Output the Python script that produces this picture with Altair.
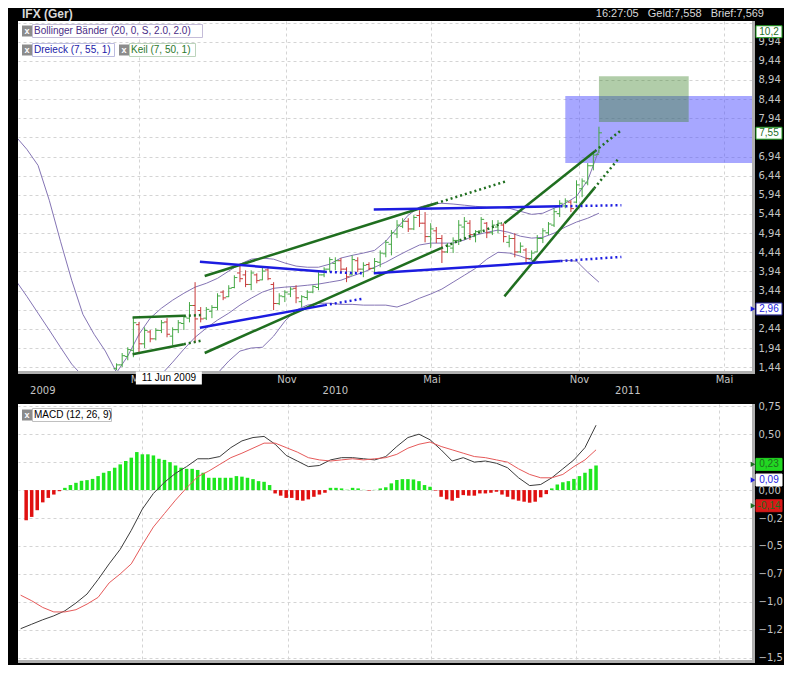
import altair as alt
import pandas as pd

# ------------------------------------------------------------------ data
bar_start = "2009-04-03"  # first weekly bar
bar_high = [1.54, 1.81, 1.96, 2.75, 2.62, 2.48, 2.41, 2.46, 2.67, 2.72,
            2.48, 2.67, 2.80, 3.14, 3.66, 3.01, 3.01, 3.06, 3.37, 3.45,
            3.58, 3.84, 4.10, 3.97, 3.97, 3.89, 4.05, 4.05, 3.66, 3.37,
            3.45, 3.53, 3.58, 3.32, 3.45, 3.58, 3.92, 4.05, 4.31, 4.31,
            4.29, 4.05, 4.36, 4.31, 4.18, 4.18, 4.29, 4.49, 4.76, 5.02,
            5.28, 5.33, 5.33, 5.41, 5.54, 5.49, 5.20, 5.10, 4.89, 4.68,
            4.83, 5.28, 5.36, 5.28, 5.02, 5.36, 5.23, 5.28, 5.28, 5.20,
            4.89, 4.94, 4.70, 4.55, 4.49, 4.89, 5.07, 5.23, 5.59, 5.80,
            5.85, 5.80, 6.32, 6.37, 6.77, 7.05, 7.72]
bar_low = [1.36, 1.44, 1.62, 1.70, 1.83, 1.94, 2.09, 2.14, 2.33, 2.22,
           2.01, 2.33, 2.41, 2.61, 2.07, 2.61, 2.67, 2.72, 2.93, 3.19,
           3.27, 3.50, 3.66, 3.53, 3.45, 3.63, 3.71, 3.71, 2.93, 3.06,
           3.14, 3.27, 3.11, 3.01, 3.19, 3.37, 3.45, 3.79, 3.92, 3.97,
           3.92, 3.66, 3.84, 3.92, 3.79, 3.97, 3.89, 4.05, 4.31, 4.36,
           4.81, 5.07, 4.97, 5.02, 5.10, 4.70, 4.55, 4.68, 4.16, 4.42,
           4.42, 4.63, 4.76, 4.76, 4.70, 4.94, 4.81, 4.89, 4.94, 4.70,
           4.57, 4.31, 4.42, 4.18, 4.23, 4.44, 4.68, 4.89, 5.10, 5.36,
           5.59, 5.49, 5.72, 5.88, 6.19, 6.58, 7.03]
bar_open = [1.40, 1.50, 1.72, 1.88, 2.55, 2.05, 2.36, 2.18, 2.40, 2.62,
            2.25, 2.42, 2.58, 2.72, 3.05, 2.92, 2.72, 2.90, 3.00, 3.40,
            3.28, 3.52, 3.90, 3.85, 3.60, 3.85, 3.72, 3.98, 3.60, 3.10,
            3.28, 3.35, 3.50, 3.15, 3.26, 3.40, 3.52, 3.85, 4.00, 4.15,
            4.22, 4.00, 3.85, 4.22, 4.00, 4.12, 4.02, 4.18, 4.40, 4.65,
            4.92, 5.12, 5.25, 5.05, 5.40, 5.20, 4.85, 5.00, 4.80, 4.45,
            4.55, 4.75, 5.10, 5.20, 4.85, 5.00, 5.20, 4.95, 5.10, 5.15,
            4.70, 4.80, 4.45, 4.50, 4.28, 4.45, 4.80, 4.95, 5.15, 5.45,
            5.65, 5.75, 5.75, 6.10, 6.25, 6.70, 7.00]
bar_close = [1.50, 1.74, 1.90, 2.60, 2.05, 2.40, 2.18, 2.40, 2.60, 2.30,
             2.42, 2.60, 2.75, 3.05, 2.70, 2.70, 2.95, 3.00, 3.30, 3.25,
             3.50, 3.78, 3.75, 3.60, 3.90, 3.70, 3.95, 3.75, 3.10, 3.30,
             3.40, 3.48, 3.25, 3.28, 3.40, 3.55, 3.85, 4.00, 4.25, 4.22,
             4.00, 3.80, 4.25, 4.00, 4.10, 4.02, 4.20, 4.42, 4.70, 4.95,
             5.15, 5.25, 5.05, 5.35, 5.20, 4.85, 5.05, 4.80, 4.45, 4.60,
             4.75, 5.15, 5.25, 4.90, 4.98, 5.30, 4.95, 5.15, 5.20, 4.85,
             4.80, 4.45, 4.60, 4.28, 4.42, 4.80, 5.00, 5.18, 5.50, 5.72,
             5.78, 5.58, 6.20, 6.30, 6.70, 6.98, 7.56]

band_start = "2008-11-28"  # Bollinger + MACD lines, read every second week
bb_upper = [7.47, 7.13, 6.71, 5.80, 4.73, 3.71, 2.82, 2.30, 1.86, 1.30,
            1.73, 2.30, 2.72, 2.98, 3.19, 3.37, 3.53, 3.63, 3.76, 3.95,
            4.13, 4.26, 4.29, 4.26, 4.16, 4.08, 4.05, 4.05, 4.13, 4.29,
            4.36, 4.42, 4.49, 4.73, 5.07, 5.41, 5.62, 5.70, 5.72, 5.70,
            5.67, 5.64, 5.62, 5.62, 5.59, 5.51, 5.43, 5.46, 5.59, 5.72,
            5.90, 6.32, 7.11]
bb_middle = [3.71, 3.29, 2.85, 2.41, 1.96, 1.52, 1.20, 1.05, 0.95, 0.92,
             0.95, 1.02, 1.12, 1.25, 1.57, 1.91, 2.22, 2.46, 2.67, 2.85,
             3.06, 3.24, 3.40, 3.50, 3.53, 3.55, 3.58, 3.61, 3.66, 3.71,
             3.82, 3.92, 4.05, 4.18, 4.34, 4.49, 4.63, 4.68, 4.68, 4.68,
             4.76, 4.89, 4.96, 5.02, 4.96, 4.86, 4.81, 4.83, 4.94, 5.10,
             5.23, 5.33, 5.46]
bb_lower = [-0.05, -0.55, -1.00, -0.98, -0.81, -0.67, -0.42, -0.20, 0.04, 0.54,
            0.17, -0.26, -0.48, -0.48, -0.05, 0.45, 0.91, 1.15, 1.28, 1.60,
            1.86, 1.94, 1.96, 2.25, 2.64, 2.93, 3.06, 3.11, 3.11, 3.08,
            3.08, 3.06, 3.06, 3.06, 3.01, 3.11, 3.24, 3.35, 3.48, 3.66,
            3.84, 4.02, 4.26, 4.44, 4.42, 4.34, 4.23, 4.18, 4.21, 4.23,
            4.21, 3.92, 3.66]
macd_line = [-1.24, -1.20, -1.16, -1.125, -1.08, -1.01, -0.93, -0.80, -0.66, -0.53,
             -0.36, -0.17, -0.03, 0.07, 0.15, 0.21, 0.28, 0.28, 0.30, 0.38,
             0.44, 0.47, 0.48, 0.41, 0.31, 0.26, 0.21, 0.22, 0.27, 0.29,
             0.29, 0.28, 0.27, 0.30, 0.39, 0.47, 0.50, 0.45, 0.36, 0.26,
             0.29, 0.25, 0.26, 0.24, 0.20, 0.11, 0.04, 0.05, 0.11, 0.19,
             0.27, 0.38, 0.58]
macd_signal = [-0.94, -0.99, -1.05, -1.09, -1.09, -1.07, -1.02, -0.96, -0.83, -0.75,
               -0.66, -0.49, -0.33, -0.21, -0.09, 0.02, 0.12, 0.17, 0.23, 0.29,
               0.33, 0.375, 0.42, 0.42, 0.38, 0.34, 0.29, 0.27, 0.26, 0.27,
               0.28, 0.27, 0.28, 0.29, 0.32, 0.375, 0.41, 0.43, 0.39, 0.36,
               0.33, 0.30, 0.29, 0.27, 0.25, 0.19, 0.14, 0.11, 0.11, 0.14,
               0.21, 0.27, 0.36]

hist_start = "2008-12-05"  # MACD histogram, weekly
macd_hist = [-0.27, -0.24, -0.18, -0.11, -0.07, -0.04, -0.01,
             0.02, 0.045, 0.065, 0.083, 0.089, 0.10, 0.125, 0.155, 0.17, 0.20,
             0.23, 0.26, 0.29, 0.34, 0.32, 0.32, 0.31, 0.28, 0.27, 0.25,
             0.22, 0.20, 0.19, 0.19, 0.18, 0.155, 0.11, 0.11, 0.11, 0.11,
             0.11, 0.125, 0.12, 0.11, 0.098, 0.08, 0.074, 0.045, -0.03, -0.05,
             -0.07, -0.07, -0.09, -0.095, -0.083, -0.06, -0.04, -0.024, 0.02, 0.02,
             0.015, 0.003, 0.02, 0.015, 0.002, -0.005, 0.002, 0.015, 0.025, 0.06,
             0.09, 0.098, 0.098, 0.095, 0.08, 0.045, 0.03, -0.005, -0.06, -0.083,
             -0.095, -0.07, -0.045, -0.05, -0.05, -0.03, -0.03, -0.024, -0.015, -0.04,
             -0.06, -0.083, -0.095, -0.104, -0.113, -0.104, -0.065, -0.036, 0.015, 0.05,
             0.07, 0.08, 0.10, 0.125, 0.155, 0.19, 0.22]

# triangle (Dreieck) and wedge (Keil) lines: start, end of solid part, end of dotted part
trend_kind = ["Keil", "Keil", "Keil", "Keil", "Keil", "Keil",
              "Dreieck", "Dreieck", "Dreieck", "Dreieck"]
trend_t0 = ["2009-04-23", "2009-04-23", "2009-07-22", "2009-07-22", "2010-07-31", "2010-07-31",
            "2009-07-16", "2009-07-16", "2010-02-18", "2010-02-18"]
trend_p0 = [2.74, 1.78, 3.82, 1.81, 5.20, 3.29, 4.19, 2.47, 5.56, 3.89]
trend_t1 = ["2009-06-26", "2009-06-26", "2010-05-07", "2010-05-13", "2010-11-21", "2010-11-20",
            "2009-12-19", "2009-12-19", "2010-10-09", "2010-10-09"]
trend_p1 = [2.78, 2.04, 5.72, 4.55, 7.08, 6.11, 3.93, 3.06, 5.64, 4.21]
trend_t2 = ["2009-07-17", "2009-07-17", "2010-08-03", "2010-07-28", "2010-12-25", "2010-12-21",
            "2010-02-03", "2010-02-05", "2010-12-24", "2010-12-24"]
trend_p2 = [2.80, 2.13, 6.30, 5.20, 7.65, 6.90, 3.89, 3.23, 5.67, 4.32]

zone_kind = ["Dreieck", "Keil"]
zone_t0 = ["2010-10-15", "2010-11-26"]
zone_t1 = ["2011-06-05", "2011-03-18"]
zone_lo = [6.77, 7.84]
zone_hi = [8.52, 9.04]

price_ticks = [1.44, 1.94, 2.44, 2.94, 3.44, 3.94, 4.44, 4.94, 5.44, 5.94,
               6.44, 6.94, 7.44, 7.94, 8.44, 8.94, 9.44, 9.94, 10.44]
price_ticks_hidden = [2.94, 7.44, 10.44]   # covered by the value tags
macd_ticks = [0.75, 0.5, 0.25, 0.0, -0.25, -0.5, -0.75, -1.0, -1.25, -1.5]
macd_ticks_hidden = [0.25]
month_ticks = ["2009-05-01", "2009-11-01", "2010-05-01", "2010-11-01", "2011-05-01"]
year_dates = ["2009-01-01", "2010-01-01", "2011-01-01"]
year_labels = ["2009", "2010", "2011"]

price_tag_value = [10.2, 7.55, 2.96]
price_tag_text = ["10,2", "7,55", "2,96"]
price_tag_kind = ["last", "last", "ref"]
macd_tag_value = [0.23, 0.09, -0.14]
macd_tag_text = ["0,23", "0,09", "-0,14"]
macd_tag_kind = ["hist", "macd", "signal"]

cursor_date = ["2009-06-11"]
cursor_text = ["11 Jun 2009"]
header_left = "IFX (Ger)"
header_right = "16:27:05\u00a0\u00a0\u00a0Geld:7,558\u00a0\u00a0\u00a0Brief:7,569"

# ------------------------------------------------------------------ layout / style
W, H1, H2 = 734, 350, 256
AXF = "DejaVu Sans"
UIF = "Liberation Sans"
GRID = "#d4d4d4"
AXL = "#c4c4c4"
UP, DOWN = "#45a845", "#c83a3a"
KEIL, DREIECK = "#1f6e1f", "#1c1ce0"
PURPLE = "#8474b4"
BOX = "M-1,-0.46L1,-0.46L1,0.46L-1,0.46Z"
WIDEBOX = "M-1,-0.197L1,-0.197L1,0.197L-1,0.197Z"


def dt(s):
    y, m, d = (int(v) for v in s.split("-"))
    return alt.DateTime(year=y, month=m, date=d, utc=True)


def hide_expr(vals):
    return " || ".join("abs(datum.value - (%s)) < 0.001" % v for v in vals)


X_SCALE = alt.Scale(type="utc", domain=[dt("2008-12-01"), dt("2011-06-05")])
Y_PRICE = alt.Scale(domain=[1.34, 10.48], zero=False, nice=False)
Y_MACD = alt.Scale(domain=[-1.52, 0.77], zero=False, nice=False)

x_axis_price = alt.Axis(values=[dt(s) for s in month_ticks],
                        labelExpr="utcmonth(datum.value) == 4 ? 'Mai' : 'Nov'",
                        grid=True, gridColor=GRID, gridDash=[3, 3], ticks=False, domain=False,
                        labelColor=AXL, labelFont=AXF, labelFontSize=10, labelPadding=3,
                        labelOverlap=False, labelFlush=False, title=None, zindex=0)
x_axis_macd = alt.Axis(values=[dt(s) for s in month_ticks], labels=False,
                       grid=True, gridColor=GRID, gridDash=[3, 3], ticks=False, domain=False,
                       title=None, zindex=0)
LBL = "slice(replace(format(datum.value, '.2f'), '.', ','), 0, 4)"
y_axis_price = alt.Axis(orient="right", values=price_ticks,
                        labelExpr="(" + hide_expr(price_ticks_hidden) + ") ? '' : " + LBL,
                        grid=True, gridColor=GRID, gridDash=[3, 3], ticks=False, domain=False,
                        labelColor=AXL, labelFont=AXF, labelFontSize=10, labelPadding=6,
                        labelOverlap=False, title=None, zindex=0)
y_axis_macd = alt.Axis(orient="right", values=macd_ticks,
                       labelExpr="(" + hide_expr(macd_ticks_hidden) + ") ? '' : " + LBL,
                       grid=True, gridColor=GRID, gridDash=[3, 3], ticks=False, domain=False,
                       labelColor=AXL, labelFont=AXF, labelFontSize=10, labelPadding=6,
                       labelOverlap=False, title=None, zindex=0)


def xp(field):
    return alt.X(field, type="temporal", scale=X_SCALE, axis=x_axis_price)


def xm(field):
    return alt.X(field, type="temporal", scale=X_SCALE, axis=x_axis_macd)


def yp(field):
    return alt.Y(field, type="quantitative", scale=Y_PRICE, axis=y_axis_price)


def ym(field):
    return alt.Y(field, type="quantitative", scale=Y_MACD, axis=y_axis_macd)


def legend_item(label, x, y, w, text_color, border):
    base = alt.Chart(pd.DataFrame({"label": [label]}))
    return [
        base.mark_rect(fill="white", stroke=border, strokeWidth=1).encode(
            x=alt.value(x + 10.5), x2=alt.value(x + 10.5 + w),
            y=alt.value(y - 6.5), y2=alt.value(y + 6.5)),
        base.mark_rect(color="#8c8c8c").encode(
            x=alt.value(x), x2=alt.value(x + 10), y=alt.value(y - 5.5), y2=alt.value(y + 5.5)),
        base.mark_text(text="x", font=UIF, fontSize=9, fontWeight="bold", color="white").encode(
            x=alt.value(x + 5), y=alt.value(y)),
        base.mark_text(align="left", baseline="middle", font=UIF, fontSize=10,
                       color=text_color).encode(x=alt.value(x + 12), y=alt.value(y),
                                                text="label:N"),
    ]


def borders(h):
    d = alt.Chart(pd.DataFrame({"k": [0]}))
    return [
        d.mark_rule(color="#b0b0b0", strokeWidth=3).encode(
            x=alt.value(W + 1.5), y=alt.value(0), y2=alt.value(h + 3)),
        d.mark_rule(color="#b0b0b0", strokeWidth=3).encode(
            x=alt.value(0), x2=alt.value(W + 3), y=alt.value(h + 1.5)),
    ]


tag_kinds = ["last", "ref", "hist", "macd", "signal"]
tag_line = alt.Scale(domain=tag_kinds, range=["#1e9a1e", "#2a2a9a", "#22d822", "#ffffff", "#d81818"])
tag_fill = alt.Scale(domain=tag_kinds, range=["#ffffff", "#ffffff", "#22d822", "#ffffff", "#d81818"])
tag_text = alt.Scale(domain=tag_kinds, range=["#1e9a1e", "#2a2a9a", "#ffffff", "#000000", "#ffffff"])
tag_arrow = alt.Scale(domain=tag_kinds, range=["#1e9a1e", "#202070", "#22d822", "#000000", "#d81818"])


def tags(df, yenc):
    base = alt.Chart(df)
    return [
        base.transform_filter(alt.datum.kind != "last").mark_point(
            shape="triangle-right", size=28, filled=True, opacity=1).encode(
            x=alt.value(W + 1), y=yenc, color=alt.Color("kind:N", scale=tag_arrow, legend=None)),
        base.mark_point(shape=BOX, size=676, filled=True, fillOpacity=1, strokeWidth=1,
                        opacity=1).encode(
            x=alt.value(W + 17), y=yenc,
            fill=alt.Fill("kind:N", scale=tag_fill, legend=None),
            stroke=alt.Stroke("kind:N", scale=tag_line, legend=None)),
        base.mark_text(font=UIF, fontSize=10, align="center", baseline="middle").encode(
            x=alt.value(W + 17), y=yenc, text="text:N",
            color=alt.Color("kind:N", scale=tag_text, legend=None)),
    ]


# ------------------------------------------------------------------ frames
bars = pd.DataFrame({
    "date": pd.date_range(bar_start, periods=len(bar_high), freq="7D").strftime("%Y-%m-%d"),
    "high": bar_high, "low": bar_low, "open": bar_open, "close": bar_close})
bands = pd.DataFrame({
    "date": pd.date_range(band_start, periods=len(bb_upper), freq="14D").strftime("%Y-%m-%d"),
    "upper": bb_upper, "middle": bb_middle, "lower": bb_lower,
    "macd": macd_line, "signal": macd_signal})
hist = pd.DataFrame({
    "date": pd.date_range(hist_start, periods=len(macd_hist), freq="7D").strftime("%Y-%m-%d"),
    "h": macd_hist})
trend = pd.DataFrame({"kind": trend_kind, "t0": trend_t0, "p0": trend_p0,
                      "t1": trend_t1, "p1": trend_p1, "t2": trend_t2, "p2": trend_p2})
zones = pd.DataFrame({"kind": zone_kind, "t0": zone_t0, "t1": zone_t1,
                      "lo": zone_lo, "hi": zone_hi})
years = pd.DataFrame({"date": year_dates, "label": year_labels})
cursor = pd.DataFrame({"date": cursor_date, "label": cursor_text})
ptags = pd.DataFrame({"value": price_tag_value, "text": price_tag_text, "kind": price_tag_kind})
mtags = pd.DataFrame({"value": macd_tag_value, "text": macd_tag_text, "kind": macd_tag_kind})

bar_color = alt.condition(alt.datum.close >= alt.datum.open, alt.value(UP), alt.value(DOWN))
kind_color = alt.Color("kind:N", scale=alt.Scale(domain=["Keil", "Dreieck"], range=[KEIL, DREIECK]),
                       legend=None)

# ------------------------------------------------------------------ upper panel
zone_blue = alt.Chart(zones).transform_filter(alt.datum.kind == "Dreieck").mark_rect(
    color="#5050ff", opacity=0.5, clip=True).encode(x=xp("t0"), x2="t1:T", y=yp("lo"), y2="hi:Q")
zone_green = alt.Chart(zones).transform_filter(alt.datum.kind == "Keil").mark_rect(
    color="#3c8228", opacity=0.4, clip=True).encode(x=xp("t0"), x2="t1:T", y=yp("lo"), y2="hi:Q")

band_lines = alt.Chart(bands).transform_fold(
    ["upper", "middle", "lower"], as_=["band", "val"]).mark_line(
    clip=True, strokeWidth=1, color=PURPLE).encode(x=xp("date"), y=yp("val"), detail="band:N")

hl = alt.Chart(bars).mark_rule(strokeWidth=1).encode(
    x=xp("date"), y=yp("high"), y2="low:Q", color=bar_color)
op = alt.Chart(bars).mark_tick(orient="horizontal", size=3, thickness=1, xOffset=-1.5,
                               opacity=1).encode(x=xp("date"), y=yp("open"), color=bar_color)
cl = alt.Chart(bars).mark_tick(orient="horizontal", size=3, thickness=1, xOffset=1.5,
                               opacity=1).encode(x=xp("date"), y=yp("close"), color=bar_color)

solid = alt.Chart(trend).mark_rule(strokeWidth=2.5, clip=True).encode(
    x=xp("t0"), y=yp("p0"), x2="t1:T", y2="p1:Q", color=kind_color)
dotted = alt.Chart(trend).mark_rule(strokeWidth=2.5, strokeDash=[2, 3], clip=True).encode(
    x=xp("t1"), y=yp("p1"), x2="t2:T", y2="p2:Q", color=kind_color)

hdr = alt.Chart(pd.DataFrame({"t": [header_left, header_right]}))
head_l = hdr.transform_filter(alt.datum.t == header_left).mark_text(
    align="left", baseline="middle", font=UIF, fontSize=12, fontWeight="bold",
    color="#d8d8d8").encode(x=alt.value(4), y=alt.value(-7), text="t:N")
head_r = hdr.transform_filter(alt.datum.t == header_right).mark_text(
    align="right", baseline="middle", font=UIF, fontSize=11,
    color="#d8d8d8").encode(x=alt.value(W + 12), y=alt.value(-7), text="t:N")

year_text = alt.Chart(years).mark_text(baseline="middle", font=AXF, fontSize=10,
                                       color=AXL).encode(
    x=xp("date"), y=alt.value(H1 + 20), text="label:N")
cursor_box = alt.Chart(cursor).mark_point(shape=WIDEBOX, size=4356, filled=True, color="white",
                                          opacity=1, xOffset=-3).encode(
    x=xp("date"), y=alt.value(H1 + 7))
cursor_lbl = alt.Chart(cursor).mark_text(font=UIF, fontSize=10, color="black",
                                         xOffset=-3, baseline="middle").encode(
    x=xp("date"), y=alt.value(H1 + 7), text="label:N")

upper = alt.layer(
    zone_blue, zone_green, band_lines, hl, op, cl, solid, dotted,
    *borders(H1),
    *legend_item("Bollinger Bänder (20, 0, S, 2.0, 2.0)", 4, 10, 170, "#4a2c86", "#c4bcd8"),
    *legend_item("Dreieck (7, 55, 1)", 4, 29, 82, "#1a1aa8", "#bcbce0"),
    *legend_item("Keil (7, 50, 1)", 101, 29, 66, "#2c7a2c", "#bcd4bc"),
    *tags(ptags, yp("value")),
    head_l, head_r, year_text, cursor_box, cursor_lbl,
).properties(width=W, height=H1)

# ------------------------------------------------------------------ MACD panel
hist_bars = alt.Chart(hist).mark_bar(size=3.5, clip=True, opacity=1).encode(
    x=xm("date"), y=ym("h"),
    color=alt.condition(alt.datum.h >= 0, alt.value("#1ee61e"), alt.value("#e01010")))
macd_l = alt.Chart(bands).mark_line(clip=True, strokeWidth=1, color="#3c3c3c").encode(
    x=xm("date"), y=ym("macd"))
signal_l = alt.Chart(bands).mark_line(clip=True, strokeWidth=1, color="#e65a5a").encode(
    x=xm("date"), y=ym("signal"))

lower = alt.layer(
    hist_bars, macd_l, signal_l,
    *borders(H2),
    *legend_item("MACD (12, 26, 9)", 4, 11, 79, "#000000", "#c0c0c0"),
    *tags(mtags, ym("value")),
).properties(width=W, height=H2)

chart = alt.vconcat(upper, lower, spacing=5).properties(
    padding={"left": 8, "top": 0, "right": 0, "bottom": 0},
    background="#000000",
).configure_view(fill="white", stroke=None)

chart.save("out.html", embed_options={"renderer": "svg", "actions": False})
